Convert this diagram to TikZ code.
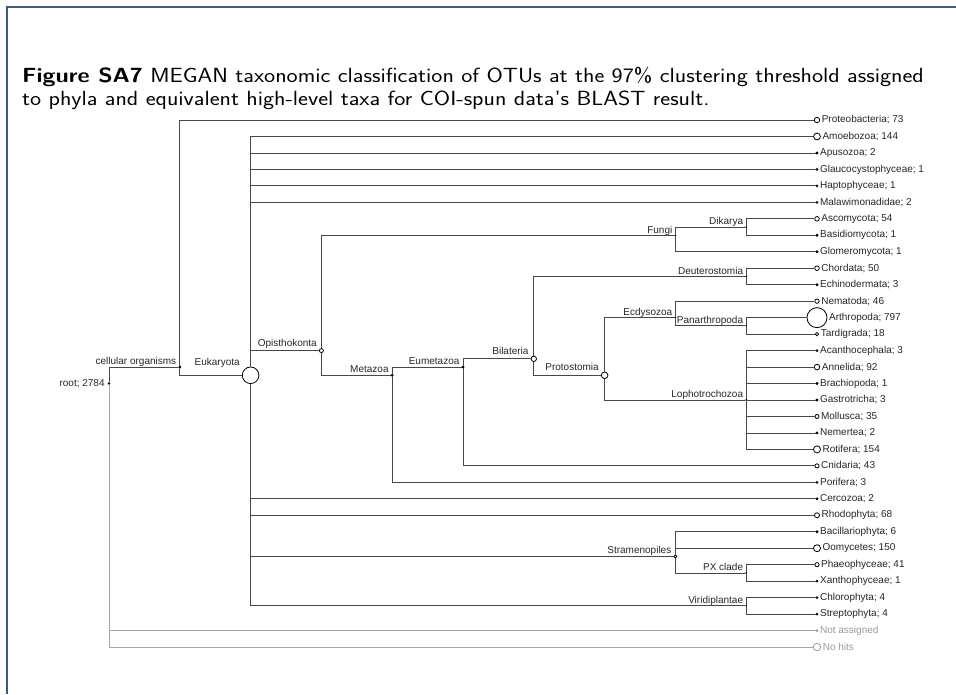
\documentclass[tikz,border=0pt]{standalone}
\usepackage{fontspec}
\newfontfamily\treefont{Liberation Sans}
\definecolor{framecol}{RGB}{62,92,122}
\tikzset{
  edge/.style={draw=black!72, line width=0.8pt},
  faint/.style={draw=black!35, line width=0.8pt},
  trunk/.style={draw=black, line width=1.6pt},
  knot/.style={circle, draw=black, fill=white, line width=0.8pt, inner sep=0pt},
  leaflbl/.style={font=\treefont\fontsize{10}{12}\selectfont, text=black!85, inner sep=0pt, anchor=west},
  innerlbl/.style={font=\treefont\fontsize{10}{12}\selectfont, text=black!85, inner sep=0pt, anchor=base east}
}

\begin{document}
\begin{tikzpicture}[x=1pt,y=-1pt]

% Tree geometry
\def\LX{817}
\def\DX{70.8}
\def\TOP{120}
\def\DY{16.47}

\useasboundingbox (0,0) rectangle (956,694);

% Page frame
\draw[framecol, line width=1.6pt] (7,694) -- (7,7) -- (956,7);

% Caption
\node[anchor=north west, inner sep=0pt, font=\sffamily\fontsize{20.5}{22.5}\selectfont] (caption) at (22,67)
  {\scalebox{1.15}[1]{\begin{tabular}{@{}l@{}}
   \textbf{Figure SA7} MEGAN taxonomic classification of OTUs at the 97\% clustering threshold assigned\\
   to phyla and equivalent high-level taxa for COI-spun data's BLAST result.\end{tabular}}};

% Leaves
\foreach \n/\i/\r/\t in {
  proteo/0/2.7/{Proteobacteria; 73}, amoe/1/3.4/{Amoebozoa; 144}, apus/2/1/{Apusozoa; 2},
  glau/3/1/{Glaucocystophyceae; 1}, hapt/4/1/{Haptophyceae; 1}, mala/5/1/{Malawimonadidae; 2},
  asco/6/2.3/{Ascomycota; 54}, basi/7/1/{Basidiomycota; 1}, glom/8/1/{Glomeromycota; 1},
  chor/9/2.3/{Chordata; 50}, echi/10/1/{Echinodermata; 3}, nema/11/2.2/{Nematoda; 46},
  arth/12/10/{Arthropoda; 797}, tard/13/1.7/{Tardigrada; 18}, acan/14/1/{Acanthocephala; 3},
  anne/15/2.8/{Annelida; 92}, brac/16/1/{Brachiopoda; 1}, gast/17/1/{Gastrotricha; 3},
  moll/18/2/{Mollusca; 35}, neme/19/1/{Nemertea; 2}, roti/20/3.5/{Rotifera; 154},
  cnid/21/2.1/{Cnidaria; 43}, pori/22/1/{Porifera; 3}, cerc/23/1/{Cercozoa; 2},
  rhod/24/2.5/{Rhodophyta; 68}, baci/25/1/{Bacillariophyta; 6}, oomy/26/3.5/{Oomycetes; 150},
  phae/27/2.1/{Phaeophyceae; 41}, xant/28/1/{Xanthophyceae; 1}, chlo/29/1/{Chlorophyta; 4},
  stre/30/1/{Streptophyta; 4}}
{\node[knot, minimum size={2*\r*1pt}] (\n) at (\LX,{\TOP+\i*\DY}) {};
 \node[leaflbl] (\n-t) at ([xshift=1.5pt]\n.east) {\t};}

% Unassigned leaves
\node[knot, draw=black!40, minimum size=2pt] (noas) at (\LX,{\TOP+31*\DY}) {};
\node[leaflbl, text=black!40] (noas-t) at ([xshift=1.5pt]noas.east) {Not assigned};
\node[knot, draw=black!40, minimum size=7.4pt] (nohi) at (\LX,{\TOP+32*\DY}) {};
\node[leaflbl, text=black!40] (nohi-t) at ([xshift=1.5pt]nohi.east) {No hits};

% Inner taxa
\foreach \n/\h/\i/\r/\t in {
  cell/9/15/1/{cellular organisms}, euk/8/15.5/8.3/{Eukaryota}, opis/7/14/2/{Opisthokonta},
  meta/6/15.5/1/{Metazoa}, eume/5/15/1/{Eumetazoa}, bila/4/14.5/2.7/{Bilateria},
  pros/3/15.5/3.3/{Protostomia}, ecdy/2/12/0.5/{Ecdysozoa}, pana/1/12.5/0.5/{Panarthropoda},
  loph/1/17/0.5/{Lophotrochozoa}, deut/1/9.5/0.5/{Deuterostomia}, fung/2/7/0.5/{Fungi},
  dika/1/6.5/0.5/{Dikarya}, stra/2/26.5/1.5/{Stramenopiles}, pxcl/1/27.5/0.5/{PX clade},
  viri/1/29.5/0.5/{Viridiplantae}}
{\node[knot, minimum size={2*\r*1pt}] (\n) at ({\LX-\h*\DX},{\TOP+\i*\DY}) {};
 \node[innerlbl, xshift=-2pt, yshift=1.2pt] (\n-t) at (\n.west |- \n.north) {\t};}

% Root
\node[knot, minimum size=1.6pt] (root) at ({\LX-10*\DX},{\TOP+16*\DY}) {};
\node[leaflbl, anchor=east] (root-t) at ([xshift=-3pt]root.west) {root; 2784};

% Branches
\draw[trunk] (euk.north |- amoe) -- (euk.north);
\draw[trunk] (euk.south) -- (euk.south |- viri);
\foreach \p/\c in {root/cell, cell/proteo, cell/euk, euk/amoe, euk/apus, euk/glau, euk/hapt,
  euk/mala, euk/opis, euk/cerc, euk/rhod, euk/stra, euk/viri, opis/fung, opis/meta,
  fung/dika, fung/glom, dika/asco, dika/basi, meta/eume, meta/pori, eume/bila, eume/cnid,
  bila/deut, bila/pros, deut/chor, deut/echi, pros/ecdy, pros/loph, ecdy/nema, ecdy/pana,
  pana/arth, pana/tard, loph/acan, loph/anne, loph/brac, loph/gast, loph/moll, loph/neme,
  loph/roti, stra/baci, stra/oomy, stra/pxcl, pxcl/phae, pxcl/xant, viri/chlo, viri/stre}
  \draw[edge] (\p) |- (\c);
\draw[faint] (root) |- (noas);
\draw[faint] (root) |- (nohi);

\end{tikzpicture}
\end{document}
